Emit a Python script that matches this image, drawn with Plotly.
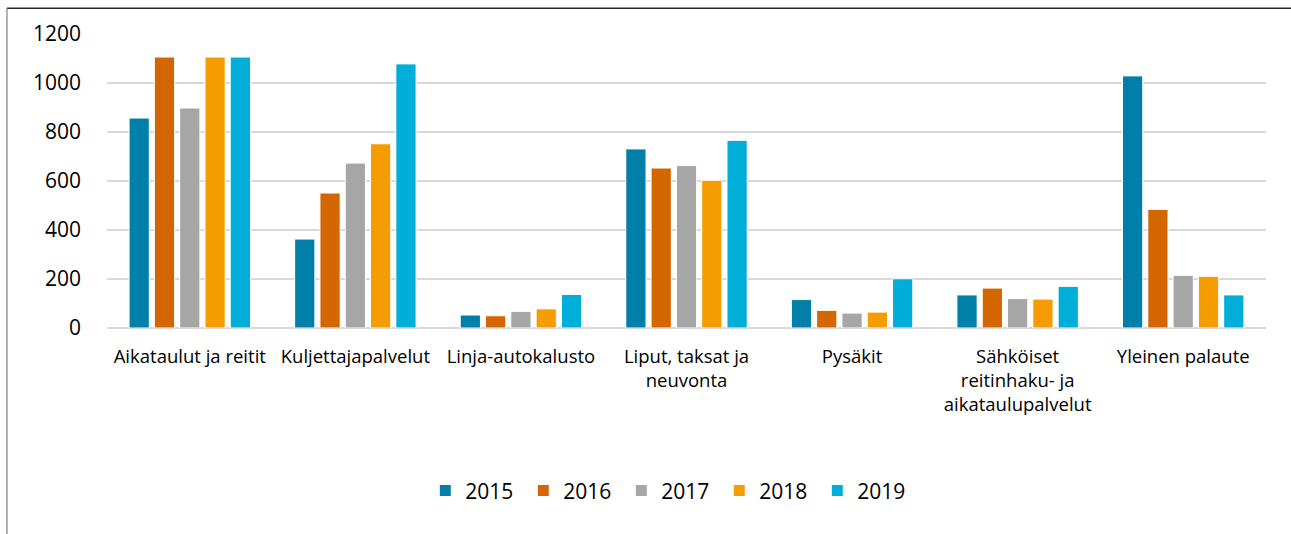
import plotly.graph_objects as go

# Palauteluokat ja vuosittaiset määrät
kategoriat = [
    "Aikataulut ja reitit",
    "Kuljettajapalvelut",
    "Linja-autokalusto",
    "Liput, taksat ja<br>neuvonta",
    "Pysäkit",
    "Sähköiset<br>reitinhaku- ja<br>aikataulupalvelut",
    "Yleinen palaute",
]
vuodet = ["2015", "2016", "2017", "2018", "2019"]

arvot_2015 = [857, 363, 53, 731, 116, 135, 1029]
arvot_2016 = [1106, 551, 50, 653, 72, 163, 484]
arvot_2017 = [898, 673, 68, 663, 61, 120, 215]
arvot_2018 = [1106, 752, 78, 603, 65, 118, 211]
arvot_2019 = [1106, 1078, 137, 766, 201, 170, 135]

sarjat = [arvot_2015, arvot_2016, arvot_2017, arvot_2018, arvot_2019]
varit = ["#0080A8", "#D46600", "#A6A6A6", "#F59D00", "#00AFD9"]

fonttiperhe = "Open Sans, Noto Sans, sans-serif"

fig = go.Figure()
for vuosi, arvot, vari in zip(vuodet, sarjat, varit):
    fig.add_trace(go.Bar(
        x=kategoriat,
        y=arvot,
        name=vuosi,
        marker=dict(color=vari, line=dict(color="white", width=1)),
    ))

fig.update_layout(
    width=1291,
    height=534,
    margin=dict(l=107, r=25, t=34, b=206),
    paper_bgcolor="white",
    plot_bgcolor="white",
    barmode="group",
    bargap=0.236,
    bargroupgap=0.2,
    font=dict(family=fonttiperhe, color="#000000"),
    legend=dict(
        orientation="h",
        x=0.486, xanchor="center",
        y=-0.554, yanchor="middle",
        font=dict(size=21),
        itemwidth=30,
        entrywidth=53,
    ),
    xaxis=dict(
        showgrid=False,
        showline=False,
        ticks="",
        tickfont=dict(size=18.5),
        ticklabelstandoff=15,
    ),
    yaxis=dict(
        range=[0, 1200],
        dtick=200,
        showgrid=True,
        gridcolor="#D9D9D9",
        gridwidth=1.5,
        zeroline=True,
        zerolinecolor="#D9D9D9",
        zerolinewidth=1.5,
        tickfont=dict(size=21),
        ticklabelstandoff=25,
    ),
)

# Kehys kuvan ympärillä (ylä- ja vasen reuna näkyvissä)
fig.add_shape(type="line", xref="paper", yref="paper",
              x0=-0.0863, x1=1.2, y0=1.088, y1=1.088,
              line=dict(color="#262626", width=1.5))
fig.add_shape(type="line", xref="paper", yref="paper",
              x0=-0.0863, x1=-0.0863, y0=1.088, y1=-1.2,
              line=dict(color="#808080", width=1.2))

# Sivun oletusmarginaali pois, jotta kuva alkaa vasemmasta yläkulmasta
fig.write_html(
    "out.html",
    config={"displayModeBar": False},
    post_script="document.body.style.margin='0';",
)
